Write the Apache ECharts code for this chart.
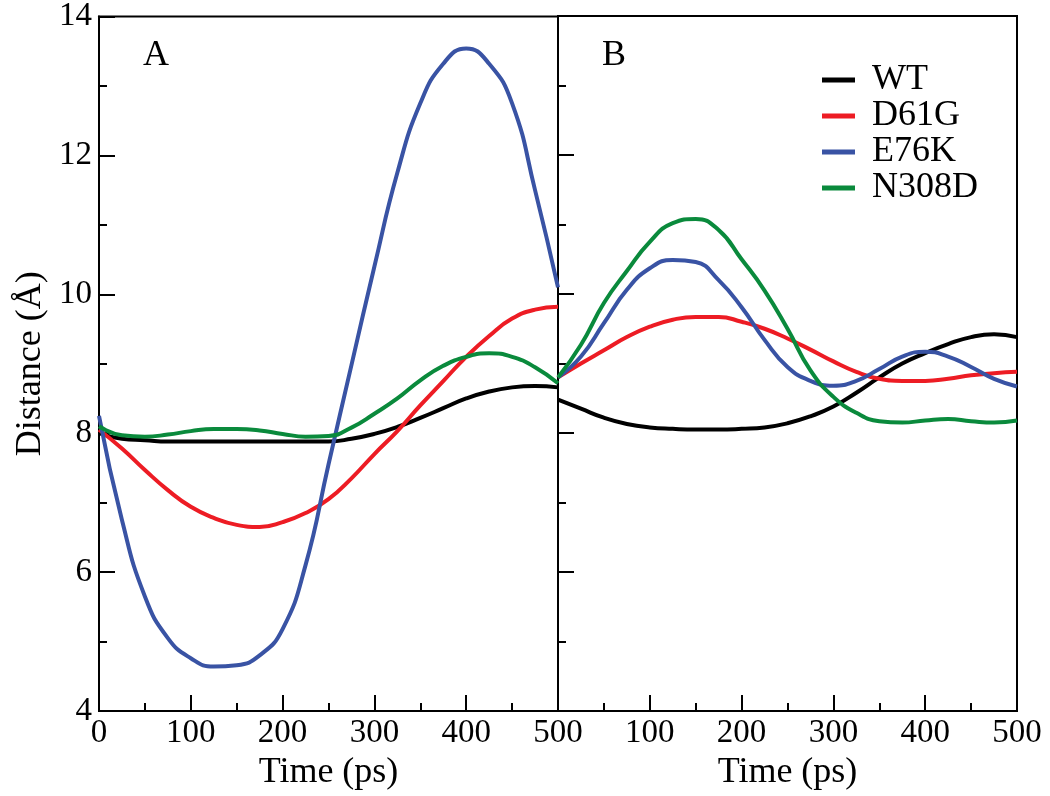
<!DOCTYPE html>
<html>
<head>
<meta charset="utf-8">
<script src="https://cdn.jsdelivr.net/npm/echarts@6/dist/echarts.min.js"></script>
<style>
html,body{margin:0;padding:0;background:#fff;}
#chart{width:1050px;height:796px;}
</style>
</head>
<body>
<div id="chart"></div>
<script>
// ---- data ----
const time = [0,25,50,75,100,125,150,175,200,225,250,275,300,325,350,375,400,425,450,475,500];
const seriesNames = ['WT','D61G','E76K','N308D'];
const xTicks = [0,100,200,300,400,500];
const yTicks = [4,6,8,10,12,14];

// Panel A
const WT_A    = [8.00,7.92,7.90,7.88,7.88,7.88,7.88,7.88,7.88,7.88,7.88,7.92,7.99,8.09,8.22,8.36,8.50,8.60,8.66,8.68,8.66];
const D61G_A  = [8.05,7.78,7.47,7.18,6.94,6.78,6.68,6.65,6.72,6.85,7.05,7.35,7.70,8.03,8.40,8.75,9.10,9.40,9.65,9.78,9.82];
const E76K_A  = [8.25,6.75,5.65,5.05,4.76,4.64,4.66,4.80,5.18,6.10,7.55,8.98,10.40,11.75,12.75,13.32,13.54,13.32,12.75,11.50,10.10];
const N308D_A = [8.10,7.97,7.95,7.98,8.03,8.06,8.06,8.04,7.99,7.95,7.96,8.08,8.28,8.50,8.76,8.97,9.10,9.15,9.10,8.95,8.72];

// Panel B
const WT_B    = [8.48,8.35,8.22,8.13,8.08,8.06,8.05,8.05,8.06,8.08,8.14,8.24,8.38,8.58,8.80,9.00,9.15,9.28,9.38,9.42,9.38];
const D61G_B  = [8.80,9.00,9.19,9.38,9.53,9.63,9.67,9.67,9.60,9.50,9.36,9.20,9.03,8.88,8.78,8.75,8.75,8.78,8.83,8.86,8.88];
const E76K_B  = [8.80,9.10,9.58,10.06,10.37,10.49,10.46,10.20,9.81,9.34,8.95,8.75,8.68,8.75,8.92,9.10,9.17,9.10,8.95,8.78,8.67];
const N308D_B = [8.80,9.27,9.87,10.33,10.75,11.02,11.08,10.92,10.50,10.05,9.50,8.90,8.52,8.29,8.17,8.15,8.18,8.20,8.17,8.15,8.18];

const colors = {WT:'#000000', D61G:'#ed1c24', E76K:'#3953a4', N308D:'#0a8a3c'};
const FONT = "'Liberation Serif','Times New Roman',serif";

function pairs(arr){ return time.map((t,i)=>[t,arr[i]]); }

const panelA = {WT:WT_A, D61G:D61G_A, E76K:E76K_A, N308D:N308D_A};
const panelB = {WT:WT_B, D61G:D61G_B, E76K:E76K_B, N308D:N308D_B};

const series = [];
[panelA, panelB].forEach((panel, gi) => {
  seriesNames.forEach(name => {
    series.push({
      name: name, type: 'line', xAxisIndex: gi, yAxisIndex: gi,
      data: pairs(panel[name]), smooth: 0.5, symbol: 'none',
      lineStyle: {width: 4, color: colors[name]},
      itemStyle: {color: colors[name]},
      z: name === 'WT' ? 2 : 3
    });
  });
});

function xAxis(gi){
  return {
    type: 'value', gridIndex: gi, min: xTicks[0], max: xTicks[xTicks.length-1], interval: 100,
    axisLine: {show: true, lineStyle: {color: '#000', width: 2}},
    axisTick: {show: true, inside: true, length: 16, lineStyle: {color: '#000', width: 2}},
    minorTick: {show: true, splitNumber: 2, length: 8, lineStyle: {color: '#000', width: 2}},
    splitLine: {show: false},
    axisLabel: {color: '#000', fontSize: 33, fontFamily: FONT, margin: 6,
      formatter: v => (gi === 1 && v === 0) ? '' : String(v)},
    name: 'Time (ps)', nameLocation: 'middle', nameGap: 34,
    nameTextStyle: {color: '#000', fontSize: 36, fontFamily: FONT}
  };
}
function yAxis(gi){
  return {
    type: 'value', gridIndex: gi, min: yTicks[0], max: yTicks[yTicks.length-1], interval: 2,
    axisLine: {show: true, lineStyle: {color: '#000', width: 2}},
    axisTick: {show: true, inside: true, length: 16, lineStyle: {color: '#000', width: 2}},
    minorTick: {show: true, splitNumber: 2, length: 8, lineStyle: {color: '#000', width: 2}},
    splitLine: {show: false},
    axisLabel: {show: gi === 0, color: '#000', fontSize: 33, fontFamily: FONT, margin: 7},
    name: gi === 0 ? 'Distance (Å)' : '', nameLocation: 'middle', nameGap: 50,
    nameTextStyle: {color: '#000', fontSize: 36, fontFamily: FONT}
  };
}

const chart = echarts.init(document.getElementById('chart'), null, {renderer: 'canvas'});
chart.setOption({
  backgroundColor: '#fff',
  animation: false,
  grid: [
    {left: 99, top: 16, width: 459, height: 695, show: true, borderColor: '#000', borderWidth: 2, backgroundColor: 'transparent'},
    {left: 558, top: 16, width: 459, height: 695, show: true, borderColor: '#000', borderWidth: 2, backgroundColor: 'transparent'}
  ],
  xAxis: [xAxis(0), xAxis(1)],
  yAxis: [yAxis(0), yAxis(1)],
  legend: {
    data: seriesNames, orient: 'vertical', left: 822, top: 62, padding: 0,
    itemWidth: 33, itemHeight: 5, itemGap: 0, icon: 'rect',
    textStyle: {color: '#000', fontSize: 36, fontFamily: FONT, lineHeight: 32, padding: [0,0,0,12]}
  },
  graphic: [
    {type: 'text', left: 143, top: 38, style: {text: 'A', fontSize: 36, fontFamily: FONT, fill: '#000'}},
    {type: 'text', left: 602, top: 38, style: {text: 'B', fontSize: 36, fontFamily: FONT, fill: '#000'}}
  ],
  series: series
});
</script>
</body>
</html>
